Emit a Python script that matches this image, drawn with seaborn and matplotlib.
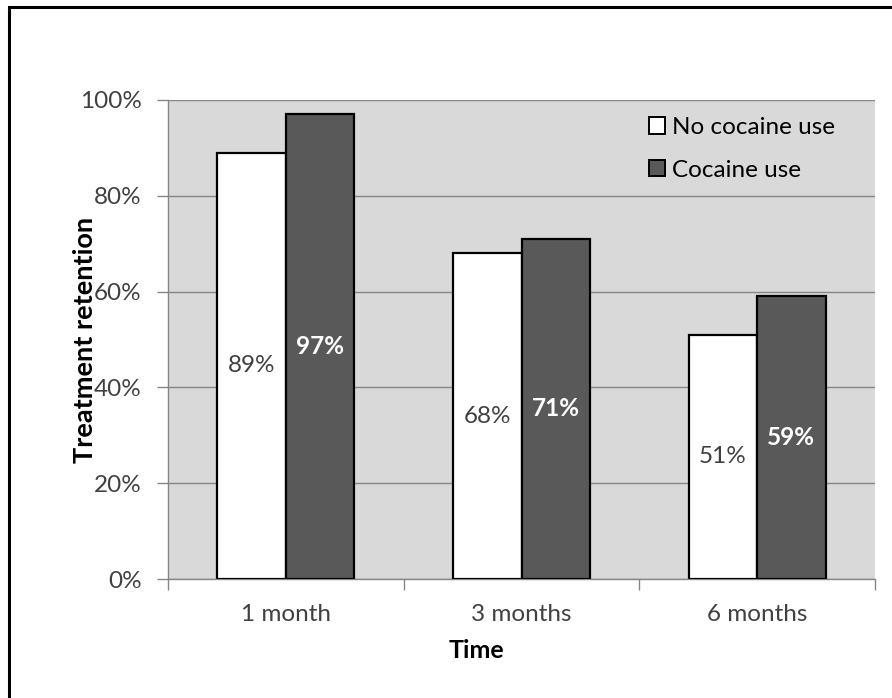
import matplotlib
matplotlib.use("Agg")
import matplotlib.pyplot as plt
from matplotlib.patches import Patch, Rectangle
import seaborn as sns
import pandas as pd

# Treatment retention (%) by follow-up time and cocaine use
time_points = ["1 month", "3 months", "6 months"]
groups = ["No cocaine use", "Cocaine use"]
no_cocaine = [89, 68, 51]
cocaine = [97, 71, 59]
y_ticks = [0, 20, 40, 60, 80, 100]

df = pd.DataFrame({
    "Time": time_points * 2,
    "Group": [groups[0]] * 3 + [groups[1]] * 3,
    "Retention": no_cocaine + cocaine,
})

sns.set_theme(style="white")
plt.rcParams["font.family"] = ["Lato", "DejaVu Sans"]

W, H = 892, 698
L, R, T, B = 168, 875, 100, 579
fig = plt.figure(figsize=(W / 100, H / 100), dpi=100)
ax = fig.add_axes([L / W, 1 - B / H, (R - L) / W, (B - T) / H])
ax.set_facecolor("#D9D9D9")

palette = {groups[0]: "#FFFFFF", groups[1]: "#595959"}
sns.barplot(data=df, x="Time", y="Retention", hue="Group", order=time_points,
            hue_order=groups, palette=palette, width=0.58, gap=0,
            edgecolor="black", linewidth=1.6, saturation=1, ax=ax,
            legend=False, zorder=3)

ax.set_xlim(-0.5, 2.5)
ax.set_ylim(0, 100)
ax.set_yticks(y_ticks)
ax.set_yticklabels([f"{t}%" for t in y_ticks])
ax.yaxis.grid(True, color="#868686", linewidth=1.0, zorder=0)
ax.set_axisbelow(True)

grey = "#868686"
for side in ["left", "bottom"]:
    ax.spines[side].set_color(grey)
    ax.spines[side].set_linewidth(1.0)
ax.spines["top"].set_visible(False)
ax.spines["right"].set_visible(False)

ax.tick_params(axis="y", which="major", length=8, width=1, color=grey,
               pad=11, labelsize=17.5, labelcolor="#404040", left=True)
ax.set_xticks([-0.5, 0.5, 1.5, 2.5], minor=True)
ax.tick_params(axis="x", which="minor", length=8, width=1, color=grey, bottom=True)
ax.tick_params(axis="x", which="major", length=0, pad=18, labelsize=17.5,
               labelcolor="#404040")

ax.set_ylabel("Treatment retention", fontsize=19.5, fontweight="bold", color="black")
ax.yaxis.set_label_coords((85 - L) / (R - L), 0.5)
ax.set_xlabel("Time", fontsize=18, fontweight="bold", color="black")
ax.xaxis.set_label_coords((476 - L) / (R - L), -(650 - B) / (B - T))
ax.xaxis.label.set_verticalalignment("center")
ax.yaxis.label.set_verticalalignment("center")

# value labels centred inside each bar
label_style = [dict(color="#404040", fontweight="normal"),
               dict(color="white", fontweight="bold")]
for cont, vals, style in zip(ax.containers, [no_cocaine, cocaine], label_style):
    ax.bar_label(cont, labels=[f"{v}%" for v in vals], label_type="center",
                 fontsize=17.5, **style)

handles = [Patch(facecolor=palette[g], edgecolor="black", linewidth=1.4, label=g)
           for g in groups]
ax.legend(handles=handles, loc="upper left",
          bbox_to_anchor=((649 - L) / (R - L), 1 - (117 - T) / (B - T)),
          frameon=False, fontsize=17.5, handlelength=0.65, handleheight=0.65,
          handletextpad=0.3, labelspacing=0.9, borderpad=0, borderaxespad=0,
          labelcolor="black")

# outer chart border
fig.patches.append(Rectangle((9 / W, -0.1), 1.2, 1 - 7 / H + 0.1,
                             transform=fig.transFigure, fill=False,
                             edgecolor="black", linewidth=2.2))

fig.savefig("out.png", dpi=100, facecolor="white")
